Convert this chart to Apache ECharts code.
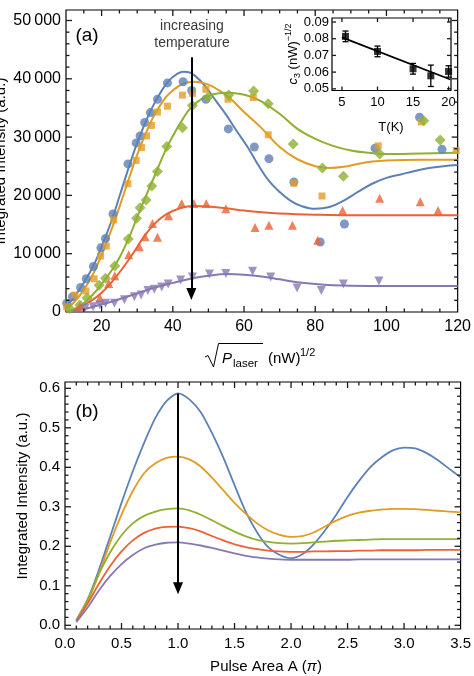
<!DOCTYPE html>
<html>
<head>
<meta charset="utf-8">
<script src="https://cdn.jsdelivr.net/npm/echarts@6/dist/echarts.min.js"></script>
<style>
  html, body { margin: 0; padding: 0; background: #fff; }
  #chart { width: 474px; height: 676px; }
</style>
</head>
<body>
<div id="chart"></div>
<script>
const FONT = '"Liberation Sans", Arial, sans-serif';
const colors = ['#5E81B5', '#E19C24', '#8FB032', '#EB6235', '#8778B3'];

// ---- panel (a): measured points [sqrt(P), intensity] ----
const blueDots = [[10.2,1500],[11.8,2600],[14.1,4200],[15.7,5700],[17.7,7800],[19.8,11000],[21.1,12600],[23.2,16800],[27.4,25400],[29.7,29000],[30.8,30200],[32.1,32500],[33.7,34200],[35.7,36500],[38.5,39300],[42.9,39500],[45.3,38000],[49.3,36500],[55.6,31400],[62.9,28300],[67.0,26300],[74.0,22300],[81.4,12000],[88.2,15100],[96.8,28100],[109.3,33400],[115.6,27900]];
const orangeDots = [[10.2,900],[12.5,2900],[15.6,3600],[17.9,5700],[19.7,9600],[21.3,11300],[23.4,15800],[27.4,22000],[29.7,26000],[31.2,28200],[32.6,30200],[34.0,32000],[35.7,34300],[38.5,35300],[42.7,37200],[45.5,37500],[49.3,38200],[55.5,36500],[62.6,36800],[66.8,30400],[74.0,22100],[81.9,19900],[97.7,28500],[109.8,32600],[119.6,27700]];
const greenDots = [[11.0,600],[13.9,1200],[15.9,2400],[19.3,4600],[21.1,5800],[23.7,7900],[27.5,12500],[29.8,16100],[30.8,17900],[32.5,19200],[34.1,21600],[35.7,24100],[38.3,28400],[42.7,31600],[45.5,35400],[49.8,36800],[55.7,37200],[62.7,37900],[66.8,35700],[73.8,28800],[82.0,24700],[87.9,23300],[98.1,27100],[110.5,32800],[115.1,29500]];
const redDots = [[13.9,1000],[19.5,2400],[22.0,4900],[23.7,6200],[27.6,9800],[30.6,11200],[32.2,12900],[34.3,15200],[35.7,12800],[38.8,16500],[42.5,18600],[45.9,18600],[49.4,18600],[54.9,17700],[63.1,14500],[67.0,14900],[73.6,14900],[80.7,12300],[87.7,17400],[98.1,19500],[109.5,18900],[114.5,17400]];
const purpleDots = [[15.3,600],[17.6,900],[19.5,1200],[21.1,1500],[23.6,1500],[26.4,2100],[29.2,2600],[31.1,2900],[33.0,3700],[34.8,3900],[36.9,4300],[38.7,4800],[42.2,5500],[45.5,6000],[50.3,6500],[54.9,6600],[62.4,7000],[67.5,6000],[74.9,4100],[81.7,3700],[87.9,4800],[97.9,5300]];

// ---- panel (a): fitted curves ----
const fitBlue = [[10,1000],[12,2300],[15,5000],[18,8300],[20,11200],[23,16000],[25,19800],[28,25500],[30,29000],[33,33500],[35,36000],[38,39000],[40,40300],[43,41200],[45,41000],[48,39500],[50,38000],[52,36300],[55,33800],[58,31000],[61,28300],[64,25200],[67,22500],[70,20600],[73,19100],[76,18200],[80,17700],[84,18000],[88,19100],[92,20600],[96,22000],[100,23000],[104,23600],[108,24200],[112,24700],[116,25000],[120,25200]];
const fitOrange = [[10,500],[12,1500],[15,3800],[18,7000],[20,9800],[23,14500],[25,18000],[28,23500],[30,27000],[33,31500],[35,34000],[38,36800],[40,38000],[43,39200],[46,39500],[50,39000],[53,38000],[56,36700],[60,34300],[65,31500],[70,28300],[75,26200],[80,25000],[84,24700],[88,24900],[92,25400],[96,25800],[100,26000],[110,26100],[120,26100]];
const fitGreen = [[10,0],[12,400],[15,1500],[18,3300],[20,4800],[23,7300],[25,9300],[28,13200],[30,16300],[33,20700],[35,23500],[38,27800],[40,30200],[43,33300],[45,35000],[48,36500],[51,37300],[55,37600],[59,37400],[62,36900],[65,36100],[70,34000],[75,31400],[80,29700],[85,28500],[90,27700],[95,27300],[100,27100],[110,27200],[120,27300]];
const fitRed = [[10,0],[12,300],[14,900],[17,1900],[20,3300],[24,6000],[28,9300],[32,13000],[35,15200],[38,16700],[42,17800],[46,18200],[50,18100],[55,17800],[60,17400],[65,17100],[70,16900],[80,16700],[90,16600],[120,16600]];
const fitPurple = [[10,0],[12,150],[15,500],[20,1300],[25,2200],[30,3200],[35,4200],[40,5000],[45,5700],[50,6200],[55,6500],[60,6400],[65,6100],[70,5600],[75,5100],[80,4800],[85,4600],[90,4500],[100,4450],[120,4450]];
const arrowA = [[45.2, 43700], [45.2, 3100]];

// ---- inset: c3 vs T ----
const insetT = [5.5, 10, 15, 17.5, 20];
const insetC = [0.0814, 0.0724, 0.062, 0.0578, 0.0604];
const insetErr = [0.0032, 0.0032, 0.0032, 0.0064, 0.0034];
const insetFitT = [5, 20.25];
const insetFitC = [0.0808, 0.0556];

// ---- panel (b): simulated intensity vs pulse area ----
const pulseArea = [0.1,0.2,0.3,0.4,0.5,0.6,0.7,0.8,0.9,1.0,1.1,1.2,1.3,1.4,1.5,1.6,1.7,1.8,1.9,2.0,2.1,2.2,2.3,2.4,2.5,2.6,2.7,2.8,2.9,3.0,3.1,3.2,3.3,3.4,3.5];
const bBlue = [0.013,0.065,0.14,0.225,0.31,0.39,0.462,0.525,0.568,0.587,0.572,0.54,0.487,0.425,0.355,0.287,0.235,0.197,0.178,0.17,0.18,0.205,0.24,0.28,0.325,0.365,0.40,0.425,0.443,0.45,0.448,0.436,0.418,0.396,0.375];
const bOrange = [0.012,0.06,0.13,0.21,0.28,0.34,0.385,0.41,0.424,0.427,0.42,0.402,0.374,0.342,0.31,0.282,0.258,0.24,0.229,0.224,0.226,0.235,0.25,0.265,0.277,0.285,0.29,0.293,0.295,0.295,0.294,0.292,0.29,0.288,0.286];
const bGreen = [0.012,0.065,0.13,0.185,0.228,0.258,0.277,0.288,0.294,0.296,0.291,0.28,0.266,0.251,0.237,0.225,0.216,0.211,0.208,0.207,0.208,0.21,0.212,0.214,0.215,0.216,0.217,0.218,0.218,0.218,0.218,0.218,0.218,0.218,0.218];
const bRed = [0.01,0.055,0.105,0.15,0.187,0.215,0.234,0.245,0.249,0.25,0.246,0.238,0.226,0.215,0.205,0.198,0.193,0.189,0.187,0.186,0.186,0.187,0.187,0.188,0.188,0.189,0.189,0.19,0.19,0.19,0.19,0.191,0.191,0.191,0.191];
const bPurple = [0.008,0.045,0.088,0.125,0.155,0.178,0.195,0.204,0.209,0.21,0.207,0.202,0.196,0.189,0.182,0.176,0.172,0.169,0.167,0.166,0.166,0.166,0.166,0.166,0.166,0.167,0.167,0.167,0.167,0.167,0.167,0.167,0.167,0.167,0.167];
const arrowB = [[1.0, 0.587], [1.0, 0.094]];

// tick labels and frame ticks
const xTicksA = [20, 40, 60, 80, 100, 120];
const xMinorA = [15, 25, 30, 35, 45, 50, 55, 65, 70, 75, 85, 90, 95, 105, 110, 115];
const yTicksA = [0, 10000, 20000, 30000, 40000, 50000];
const yMinorA = [2000, 4000, 6000, 8000, 12000, 14000, 16000, 18000, 22000, 24000, 26000, 28000, 32000, 34000, 36000, 38000, 42000, 44000, 46000, 48000];
const xTicksIn = [5, 10, 15, 20];
const yTicksIn = [0.05, 0.06, 0.07, 0.08, 0.09];
const xTicksB = [0, 0.5, 1, 1.5, 2, 2.5, 3, 3.5];
const xMinorB = [0.1,0.2,0.3,0.4,0.6,0.7,0.8,0.9,1.1,1.2,1.3,1.4,1.6,1.7,1.8,1.9,2.1,2.2,2.3,2.4,2.6,2.7,2.8,2.9,3.1,3.2,3.3,3.4];
const yTicksB = [0, 0.1, 0.2, 0.3, 0.4, 0.5, 0.6];
const yMinorB = [0.02,0.04,0.06,0.08,0.12,0.14,0.16,0.18,0.22,0.24,0.26,0.28,0.32,0.34,0.36,0.38,0.42,0.44,0.46,0.48,0.52,0.54,0.56,0.58];

const ext = {
  a: { x: [10, 120], y: [0, 51800] },
  i: { x: [3.6, 20.34], y: [0.049, 0.0924] },
  b: { x: [0, 3.5], y: [-0.0094, 0.616] }
};

function valueAxis(gridIndex, range, labels, fmt, size, margin) {
  return {
    type: 'value', gridIndex: gridIndex, min: range[0], max: range[1],
    axisLine: { show: false, onZero: false },
    axisTick: { show: false },
    splitLine: { show: false },
    axisLabel: { customValues: labels, formatter: fmt, fontSize: size, margin: margin, color: '#000', fontFamily: FONT }
  };
}

const xAxes = [
  valueAxis(0, ext.a.x, xTicksA, v => String(v), 16, 7),
  valueAxis(1, ext.i.x, xTicksIn, v => String(v), 13, 5),
  valueAxis(2, ext.b.x, xTicksB, v => v.toFixed(1), 15, 7)
];
const yAxes = [
  valueAxis(0, ext.a.y, yTicksA, v => v === 0 ? '0' : (v / 1000) + '\u2009000', 16, 5),
  valueAxis(1, ext.i.y, yTicksIn, v => v.toFixed(2), 13, 3),
  valueAxis(2, ext.b.y, yTicksB, v => v.toFixed(1), 15, 5)
];

// frame ticks: inside, on all four sides, placed through the axes' scales
function tickItems(e, xMajor, xMinor, yMajor, yMinor, majLen, minLen) {
  const inX = v => v > e.x[0] && v < e.x[1];
  const inY = v => v > e.y[0] && v < e.y[1];
  const items = [];
  xMajor.filter(inX).forEach(v => items.push([v, e.y[0], majLen, 0]));
  xMinor.filter(inX).forEach(v => items.push([v, e.y[0], minLen, 0]));
  yMajor.filter(inY).forEach(v => items.push([e.x[0], v, majLen, 1]));
  yMinor.filter(inY).forEach(v => items.push([e.x[0], v, minLen, 1]));
  return items;
}
function tickSeries(gi, items, z) {
  return {
    type: 'custom', xAxisIndex: gi, yAxisIndex: gi, data: items, z: z, silent: true, clip: false,
    encode: { x: 0, y: 1 },
    renderItem: (params, api) => {
      const cs = params.coordSys;
      const p = api.coord([api.value(0), api.value(1)]);
      const len = api.value(2);
      const st = { stroke: '#1a1a1a', lineWidth: 1.3 };
      let a, b;
      if (api.value(3) === 0) {
        const x = p[0];
        a = { x1: x, y1: cs.y + cs.height, x2: x, y2: cs.y + cs.height - len };
        b = { x1: x, y1: cs.y, x2: x, y2: cs.y + len };
      } else {
        const y = p[1];
        a = { x1: cs.x, y1: y, x2: cs.x + len, y2: y };
        b = { x1: cs.x + cs.width, y1: y, x2: cs.x + cs.width - len, y2: y };
      }
      return { type: 'group', children: [{ type: 'line', shape: a, style: st }, { type: 'line', shape: b, style: st }] };
    }
  };
}

const series = [];

[fitBlue, fitOrange, fitGreen, fitRed, fitPurple].forEach((d, i) => {
  series.push({
    type: 'line', xAxisIndex: 0, yAxisIndex: 0, data: d,
    smooth: 0.4, showSymbol: false, lineStyle: { color: colors[i], width: 2 }, z: 2
  });
});

const dotSets = [
  { d: blueDots, symbol: 'circle', size: 9, rot: 0 },
  { d: orangeDots, symbol: 'rect', size: 7, rot: 0 },
  { d: greenDots, symbol: 'diamond', size: 11, rot: 0 },
  { d: redDots, symbol: 'triangle', size: 9, rot: 0 },
  { d: purpleDots, symbol: 'triangle', size: 9, rot: 180 }
];
dotSets.forEach((s, i) => {
  series.push({
    type: 'scatter', xAxisIndex: 0, yAxisIndex: 0, data: s.d,
    symbol: s.symbol, symbolSize: s.size, symbolRotate: s.rot,
    itemStyle: { color: colors[i] }, z: 3
  });
});

function arrowSeries(gi, pts) {
  return {
    type: 'line', xAxisIndex: gi, yAxisIndex: gi, data: [], z: 5,
    markLine: {
      silent: true, animation: false,
      symbol: ['none', 'triangle'], symbolSize: [10, 12],
      label: { show: false },
      lineStyle: { color: '#000', width: 2, type: 'solid' },
      data: [[{ coord: pts[0] }, { coord: pts[1] }]]
    }
  };
}
series.push(arrowSeries(0, arrowA));
series.push(tickSeries(0, tickItems(ext.a, xTicksA, xMinorA, yTicksA, yMinorA, 6, 3.5), 4));

// inset
series.push({
  type: 'line', xAxisIndex: 1, yAxisIndex: 1,
  data: insetFitT.map((t, i) => [t, insetFitC[i]]),
  showSymbol: false, lineStyle: { color: '#000', width: 1.8 }, z: 6
});
series.push({
  type: 'custom', xAxisIndex: 1, yAxisIndex: 1, z: 6,
  data: insetT.map((t, i) => [t, insetC[i], insetErr[i]]),
  renderItem: (params, api) => {
    const x = api.value(0), y = api.value(1), e = api.value(2);
    const top = api.coord([x, y + e]);
    const bot = api.coord([x, y - e]);
    const w = 3;
    const st = { stroke: '#000', lineWidth: 1.3 };
    return {
      type: 'group', children: [
        { type: 'line', shape: { x1: top[0], y1: top[1], x2: bot[0], y2: bot[1] }, style: st },
        { type: 'line', shape: { x1: top[0] - w, y1: top[1], x2: top[0] + w, y2: top[1] }, style: st },
        { type: 'line', shape: { x1: bot[0] - w, y1: bot[1], x2: bot[0] + w, y2: bot[1] }, style: st }
      ]
    };
  }
});
series.push({
  type: 'scatter', xAxisIndex: 1, yAxisIndex: 1, z: 7,
  data: insetT.map((t, i) => [t, insetC[i]]),
  symbol: 'rect', symbolSize: 7, itemStyle: { color: '#000' }
});
series.push(tickSeries(1, tickItems(ext.i, xTicksIn, [], yTicksIn, [], 4, 2), 8));

// panel (b)
[bBlue, bOrange, bGreen, bRed, bPurple].forEach((vals, i) => {
  series.push({
    type: 'line', xAxisIndex: 2, yAxisIndex: 2,
    data: pulseArea.map((a, k) => [a, vals[k]]),
    smooth: 0.25, showSymbol: false, lineStyle: { color: colors[i], width: 1.8 }, z: 2
  });
});
series.push(arrowSeries(2, arrowB));
series.push(tickSeries(2, tickItems(ext.b, xTicksB, xMinorB, yTicksB, yMinorB, 6, 3.5), 4));

const txt = (x, y, text, size, extra) => ({
  type: 'text', x: x, y: y, silent: true,
  style: Object.assign({ text: text, font: size + 'px ' + FONT, fill: '#000', align: 'center', verticalAlign: 'middle' }, extra || {})
});

const graphic = [
  txt(87, 36, '(a)', 19),
  txt(87, 412, '(b)', 19),
  txt(192, 35, 'increasing\ntemperature', 14, { fill: '#3a3a3a', lineHeight: 17 }),
  Object.assign(txt(1, 161, 'Integrated Intensity (a.u.)', 15), { rotation: Math.PI / 2 }),
  Object.assign(txt(23, 496, 'Integrated Intensity (a.u.)', 15), { rotation: Math.PI / 2 }),
  // x title of (a): sqrt(P_laser) (nW)^1/2
  { type: 'polyline', silent: true, shape: { points: [[205, 357], [208, 355.5], [213.5, 367], [218.5, 343.5], [263, 343.5]] },
    style: { stroke: '#000', lineWidth: 1, fill: null } },
  txt(222, 359, 'P', 15, { align: 'left', font: 'italic 15px ' + FONT }),
  txt(233, 363.5, 'laser', 11.5, { align: 'left' }),
  txt(268, 359, '(nW)', 15, { align: 'left' }),
  txt(300, 353, '1/2', 11, { align: 'left' }),
  // x title of (b)
  {
    type: 'text', x: 266, y: 667, silent: true,
    style: {
      text: '{n|Pulse Area A (}{i|π}{n|)}', align: 'center', verticalAlign: 'middle',
      rich: { n: { fontSize: 15, fontFamily: FONT, fill: '#000' }, i: { fontSize: 15, fontFamily: FONT, fontStyle: 'italic', fill: '#000' } }
    }
  },
  // inset titles
  {
    type: 'text', x: 293, y: 54, rotation: Math.PI / 2, silent: true,
    style: {
      text: '{c|c}{s|3}{n| (nW)}{p|−1/2}', align: 'center', verticalAlign: 'middle',
      rich: {
        c: { fontSize: 13, fontFamily: FONT, fontStyle: 'italic', lineHeight: 18, fill: '#000' },
        s: { fontSize: 9, fontFamily: FONT, lineHeight: 11, verticalAlign: 'bottom', fill: '#000' },
        n: { fontSize: 13, fontFamily: FONT, lineHeight: 18, fill: '#000' },
        p: { fontSize: 9, fontFamily: FONT, lineHeight: 11, verticalAlign: 'top', fill: '#000' }
      }
    }
  },
  txt(391, 127, 'T(K)', 13)
];

const chart = echarts.init(document.getElementById('chart'), null, { renderer: 'canvas' });
chart.setOption({
  animation: false,
  backgroundColor: '#fff',
  textStyle: { fontFamily: FONT },
  grid: [
    { left: 66, top: 10, width: 395, height: 302, show: true, borderColor: '#000', borderWidth: 1.2, backgroundColor: 'transparent' },
    { left: 332, top: 18, width: 119, height: 72.5, show: true, borderColor: '#000', borderWidth: 1.2, backgroundColor: '#fff', z: 5 },
    { left: 65, top: 382, width: 402, height: 247, show: true, borderColor: '#000', borderWidth: 1.2, backgroundColor: 'transparent' }
  ],
  xAxis: xAxes,
  yAxis: yAxes,
  series: series,
  graphic: graphic
});
</script>
</body>
</html>
